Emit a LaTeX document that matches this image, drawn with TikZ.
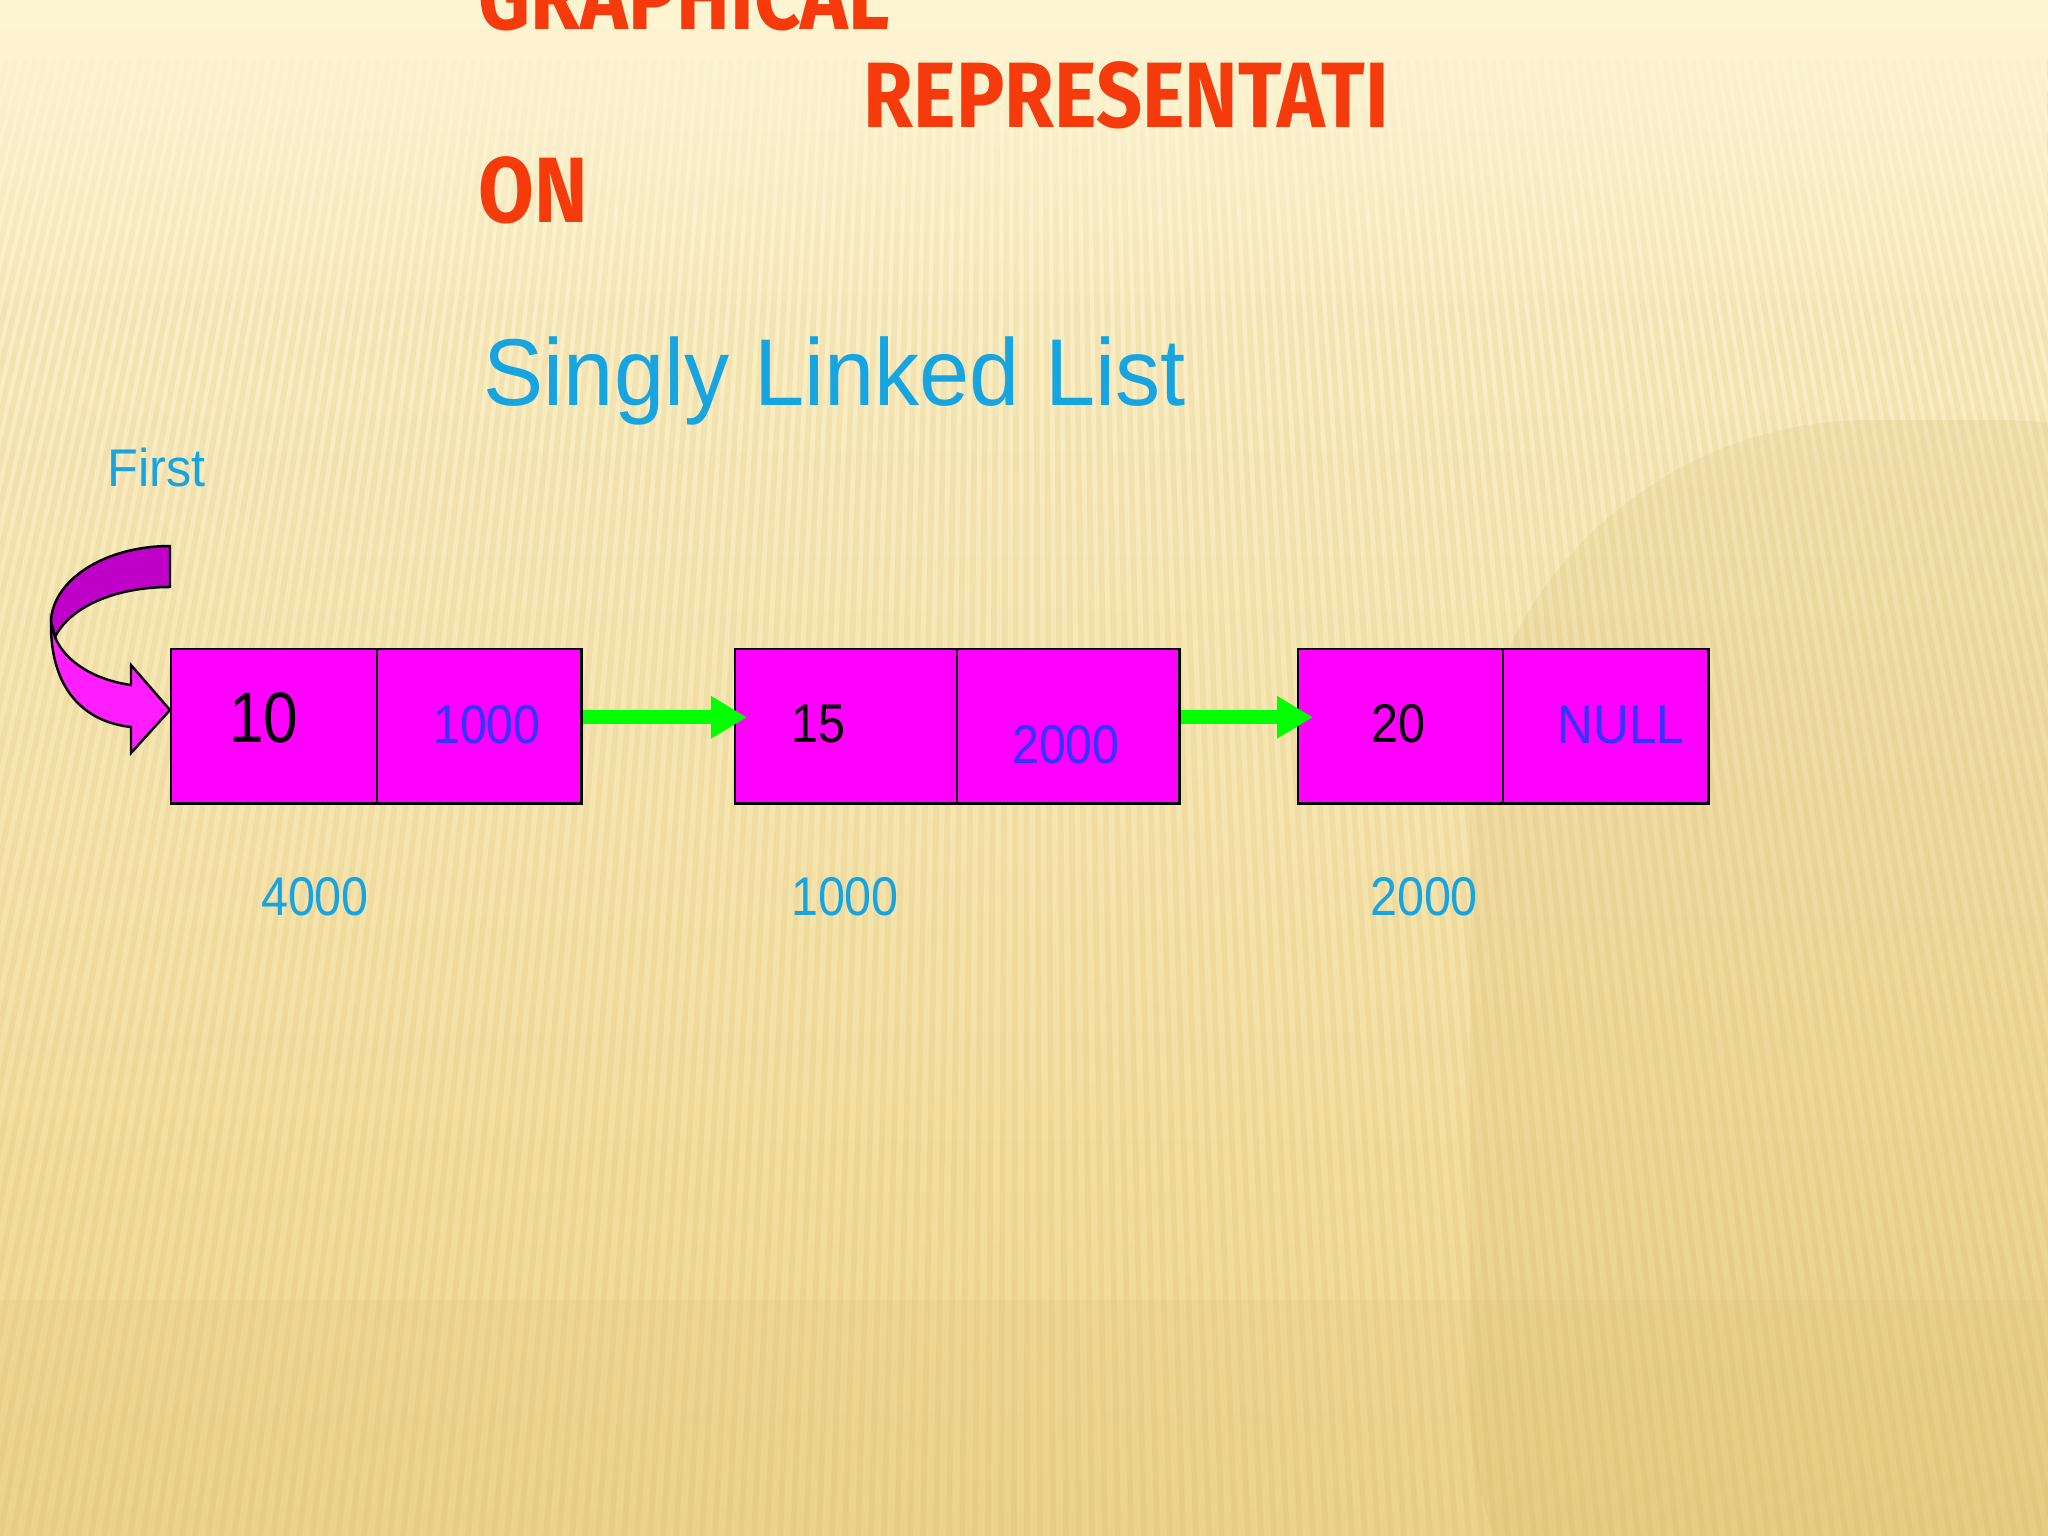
\documentclass[tikz,border=0pt]{standalone}
\usepackage{fontspec}
\setmainfont{Liberation Sans}
\newfontfamily\titlefont{Fira Sans}
\usetikzlibrary{arrows.meta,fadings}
\definecolor{bgtop}{RGB}{253,244,210}
\definecolor{bgmid}{RGB}{250,233,182}
\definecolor{bgbot}{RGB}{240,215,142}
\definecolor{stripe}{RGB}{200,165,85}
\definecolor{titlered}{RGB}{245,58,12}
\definecolor{skyblue}{RGB}{22,165,225}
\definecolor{ptrblue}{RGB}{51,51,255}
\definecolor{cellmag}{RGB}{255,0,255}
\definecolor{darkmag}{RGB}{190,0,200}
\definecolor{lightmag}{RGB}{255,30,255}
\definecolor{linkgreen}{RGB}{0,255,0}
\newcommand{\sqzx}[2]{\scalebox{#1}[1]{#2}}
\tikzset{
  cell/.style={draw=black, line width=0.7pt, fill=cellmag, minimum height=1.54cm, inner sep=0pt, anchor=north west},
  link/.style={draw=linkgreen, line width=4pt, -{Triangle[length=0.36cm,width=0.4cm]}},
  lbl/.style={inner sep=0pt, anchor=base},
  numfont/.style={font=\fontsize{15.5}{18}\selectfont},
  title/.style={inner sep=0pt, anchor=base west, text=titlered, font=\titlefont\bfseries\fontsize{26.4}{30}\selectfont}
}
\begin{document}
\begin{tikzpicture}[x=0.01cm,y=-0.01cm]
\useasboundingbox (0,0) rectangle (2048,1536);
% background
\shade[top color=bgtop, middle color=bgmid, bottom color=bgbot] (0,0) rectangle (2048,1536);
\fill[stripe, opacity=0.13, rounded corners=4cm] (1470,420) rectangle (2400,1800);
\fill[stripe, opacity=0.08] (0,1300) rectangle (2048,1536);
\foreach \i in {-30,...,190}{
  \pgfmathsetmacro\xb{\i*13}
  \pgfmathsetmacro\xt{1024+(\xb-1024)*0.733}
  \draw[stripe, opacity=0.13, line width=1.6pt] (\xt,60) -- (\xb,1536);
}
\fill[bgtop, path fading=south] (0,0) rectangle (2048,320);
% title
\node[title] (t1) at (478,29) {\sqzx{0.87}{GRAPHICAL}};
\node[title] (t2) at (863,127) {\sqzx{0.87}{REPRESENTATI}};
\node[title] (t3) at (478,222) {\sqzx{0.87}{ON}};
\node[inner sep=0pt, anchor=base west, text=skyblue, font=\fontsize{27}{32}\selectfont] (sub) at (483,405) {\sqzx{0.95}{Singly Linked List}};
\node[inner sep=0pt, anchor=base west, text=skyblue, font=\fontsize{15.1}{18}\selectfont] (first) at (107,486) {\sqzx{0.95}{First}};
% cells
\node[cell, minimum width=2.06cm] (n1a) at (170,648) {};
\node[cell, minimum width=2.04cm] (n1b) at (376,648) {};
\node[cell, minimum width=2.22cm] (n2a) at (734,648) {};
\node[cell, minimum width=2.22cm] (n2b) at (956,648) {};
\node[cell, minimum width=2.05cm] (n3a) at (1297,648) {};
\node[cell, minimum width=2.05cm] (n3b) at (1502,648) {};
% cell texts
\node[lbl, font=\fontsize{20.3}{24}\selectfont] (v1) at (264,742) {\sqzx{0.87}{10}};
\node[lbl, numfont, text=ptrblue] (p1) at (487,743) {\sqzx{0.89}{1000}};
\node[lbl, numfont] (v2) at (818,742) {\sqzx{0.89}{15}};
\node[lbl, numfont, text=ptrblue] (p2) at (1066,763) {\sqzx{0.89}{2000}};
\node[lbl, numfont] (v3) at (1398,742) {\sqzx{0.89}{20}};
\node[lbl, numfont, text=ptrblue] (p3) at (1621,743) {\sqzx{0.91}{NULL}};
% addresses
\node[lbl, numfont, text=skyblue] (a1) at (315,915) {\sqzx{0.89}{4000}};
\node[lbl, numfont, text=skyblue] (a2) at (845,915) {\sqzx{0.89}{1000}};
\node[lbl, numfont, text=skyblue] (a3) at (1424,915) {\sqzx{0.89}{2000}};
% links
\draw[link] ([yshift=0.09cm]n1b.east) -- ([xshift=0.13cm,yshift=0.09cm]n2a.west);
\draw[link] ([yshift=0.09cm]n2b.east) -- ([xshift=0.16cm,yshift=0.09cm]n3a.west);
% curved head arrow
\filldraw[fill=darkmag, draw=black, line width=0.7pt]
  (170,546) .. controls (105,546) and (52,580) .. (51,622)
  -- (55,637) .. controls (70,607) and (115,587) .. (170,587) -- cycle;
\filldraw[fill=lightmag, draw=black, line width=0.7pt]
  (51,622) .. controls (50,690) and (85,722) .. (131,727)
  -- (131,753) -- (170,710) -- (131,665) -- (131,685)
  .. controls (95,680) and (65,662) .. (55,637) -- cycle;
\end{tikzpicture}
\end{document}
